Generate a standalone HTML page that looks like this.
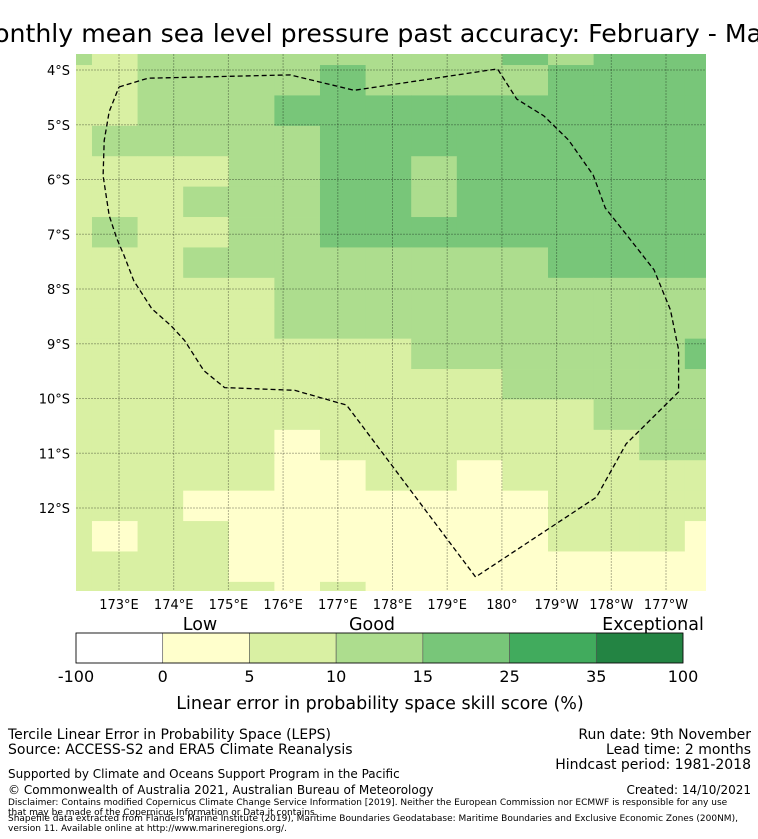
<!DOCTYPE html>
<html><head><meta charset="utf-8">
<style>
body{margin:0;background:#fff;font-family:"Liberation Sans","DejaVu Sans",sans-serif;}
#wrap{position:relative;width:758px;height:839px;overflow:hidden;}
svg text{font-family:"DejaVu Sans","Liberation Sans",sans-serif;}
</style></head>
<body>
<div id="wrap">
<svg id="svg" width="758" height="839"></svg>
</div>
<script>
// ---- data ----
const lonTicks=[173,174,175,176,177,178,179,180,181,182,183];
const lonLabels=["173°E","174°E","175°E","176°E","177°E","178°E","179°E","180°","179°W","178°W","177°W"];
const latTicks=[4,5,6,7,8,9,10,11,12];
const latLabels=["4°S","5°S","6°S","7°S","8°S","9°S","10°S","11°S","12°S"];
// skill category per grid cell (rows north->south, cols west->east); 1:0-5 2:5-10 3:10-15 4:15-25
const gridRow00=[3,2,3,3,3,3,3,3,3,3,4,3,4,4,4];
const gridRow01=[2,2,3,3,3,3,4,3,3,3,3,4,4,4,4];
const gridRow02=[2,2,3,3,3,4,4,4,4,4,4,4,4,4,4];
const gridRow03=[2,3,3,3,3,3,4,4,4,4,4,4,4,4,4];
const gridRow04=[2,2,2,2,3,3,4,4,3,4,4,4,4,4,4];
const gridRow05=[2,2,2,3,3,3,4,4,3,4,4,4,4,4,4];
const gridRow06=[2,3,2,2,3,3,4,4,4,4,4,4,4,4,4];
const gridRow07=[2,2,2,3,3,3,3,3,3,3,3,4,4,4,4];
const gridRow08=[2,2,2,2,2,3,3,3,3,3,3,3,3,3,3];
const gridRow09=[2,2,2,2,2,3,3,3,3,3,3,3,3,3,3];
const gridRow10=[2,2,2,2,2,2,2,2,3,3,3,3,3,3,4];
const gridRow11=[2,2,2,2,2,2,2,2,2,2,3,3,3,3,3];
const gridRow12=[2,2,2,2,2,2,2,2,2,2,2,2,3,3,3];
const gridRow13=[2,2,2,2,2,1,2,2,2,2,2,2,2,3,3];
const gridRow14=[2,2,2,2,2,1,1,2,2,1,2,2,2,2,2];
const gridRow15=[2,2,2,1,1,1,1,1,1,1,1,2,2,2,2];
const gridRow16=[2,1,2,2,1,1,1,1,1,1,1,2,2,2,1];
const gridRow17=[2,2,2,2,1,1,1,1,1,1,1,1,1,1,1];
const gridRow18=[2,2,2,2,2,1,2,1,1,1,1,1,1,1,1];
const grid=[gridRow00,gridRow01,gridRow02,gridRow03,gridRow04,gridRow05,gridRow06,gridRow07,gridRow08,gridRow09,gridRow10,gridRow11,gridRow12,gridRow13,gridRow14,gridRow15,gridRow16,gridRow17,gridRow18];
const cbTicks=["-100","0","5","10","15","25","35","100"];
const cbColors=["#ffffff","#ffffcc","#d9f0a3","#addd8e","#78c679","#41ab5d","#238443"];
const eezLon=[173.0,173.53,176.13,177.3,179.92,180.27,180.77,181.22,181.67,181.89,182.31,182.78,183.08,183.23,183.23,182.27,181.73,179.52,177.16,176.21,174.93,174.55,174.2,173.95,173.6,173.27,173.09,172.96,172.82,172.71,172.73,172.82,173.0];
const eezLat=[4.31,4.15,4.09,4.37,3.98,4.53,4.84,5.28,5.92,6.52,7.05,7.65,8.38,9.11,9.88,10.83,11.8,13.26,10.12,9.85,9.8,9.49,8.94,8.67,8.36,7.85,7.38,7.08,6.66,5.93,5.29,4.76,4.31];

// ---- axes ----
const X0=76,X1=706,Y0=54,Y1=591;
const xs=lon=>119+(lon-173)*54.7;
const ys=lat=>70+(lat-4)*54.75;
const cellW=0.8337, cellH=0.5553;
const lonStart=172.506-cellW, latStart=3.909-cellH;

const NS="http://www.w3.org/2000/svg";
const svg=document.getElementById('svg');
function mk(tag,attrs,parent){const e=document.createElementNS(NS,tag);for(const k in attrs)e.setAttribute(k,attrs[k]);(parent||svg).appendChild(e);return e;}

// title
let t=mk('text',{x:387,y:42,'text-anchor':'middle','font-size':25.2,fill:'#000'});
t.textContent="Monthly mean sea level pressure past accuracy: February - March";



const defs=mk('defs',{});
const cp=mk('clipPath',{id:'mapclip'},defs);
mk('rect',{x:X0,y:Y0,width:X1-X0,height:Y1-Y0},cp);
const map=mk('g',{'clip-path':'url(#mapclip)'});


grid.forEach((row,r)=>row.forEach((v,c)=>{
  const lo=lonStart+c*cellW, la=latStart+r*cellH;
  const x=xs(lo), y=ys(la), x2=xs(lo+cellW), y2=ys(la+cellH);
  const cell=mk('rect',{x:x,y:y,width:x2-x+0.4,height:y2-y+0.4,fill:cbColors[v]},map);
  
  
}));
// gridlines
lonTicks.forEach(l=>{const g=mk('line',{x1:xs(l),x2:xs(l),y1:Y0,y2:Y1,stroke:'#000','stroke-opacity':0.3,'stroke-width':1,'stroke-dasharray':'2,1'},map);
  });
latTicks.forEach(l=>{const g=mk('line',{x1:X0,x2:X1,y1:ys(l),y2:ys(l),stroke:'#000','stroke-opacity':0.3,'stroke-width':1,'stroke-dasharray':'2,1'},map);
  });
// EEZ
const pts=eezLon.map((l,i)=>xs(l).toFixed(1)+','+ys(eezLat[i]).toFixed(1)).join(' ');
const eez=mk('polyline',{points:pts,fill:'none',stroke:'#000','stroke-width':1.3,'stroke-dasharray':'5,3'},map);


// tick labels
lonTicks.forEach((l,i)=>{const e=mk('text',{x:xs(l),y:609,'text-anchor':'middle','font-size':13});e.textContent=lonLabels[i];
  });
latTicks.forEach((l,i)=>{const e=mk('text',{x:70,y:ys(l)+5,'text-anchor':'end','font-size':13});e.textContent=latLabels[i];
  });

// colorbar
const cbX0=76,cbX1=683,cbY=633,cbH=30,segW=(cbX1-cbX0)/cbColors.length;
const cb=mk('g',{});


cbColors.forEach((c,i)=>{const r=mk('rect',{x:cbX0+i*segW,y:cbY,width:segW,height:cbH,fill:c,stroke:'#555','stroke-width':0.6},cb);
  });
mk('rect',{x:cbX0,y:cbY,width:cbX1-cbX0,height:cbH,fill:'none',stroke:'#000','stroke-width':0.8},cb);
cbTicks.forEach((s,i)=>{const e=mk('text',{x:cbX0+i*segW,y:682,'text-anchor':'middle','font-size':16},cb);e.textContent=s;
  });
[["Low",200],["Good",372],["Exceptional",653]].forEach(([s,x])=>{const e=mk('text',{x:x,y:630,'text-anchor':'middle','font-size':17.5});e.textContent=s;
  });
let cl=mk('text',{x:380,y:709,'text-anchor':'middle','font-size':17.5});cl.textContent="Linear error in probability space skill score (%)";


// footer
function ft(s,x,y,size,anchor,name){const e=mk('text',{x:x,y:y,'font-size':size,'text-anchor':anchor||'start'});e.textContent=s;
  }
ft("Tercile Linear Error in Probability Space (LEPS)",8,739,14,'start','footer-method');
ft("Source: ACCESS-S2 and ERA5 Climate Reanalysis",8,754,14,'start','footer-source');
ft("Run date: 9th November",751,739,14,'end','footer-run-date');
ft("Lead time: 2 months",751,754,14,'end','footer-lead-time');
ft("Hindcast period: 1981-2018",751,769,14,'end','footer-hindcast');
ft("Supported by Climate and Oceans Support Program in the Pacific",8,778,12,'start','footer-support');
ft("© Commonwealth of Australia 2021, Australian Bureau of Meteorology",8,794,12,'start','footer-copyright');
ft("Created: 14/10/2021",751,794,12,'end','footer-created');
ft("Disclaimer: Contains modified Copernicus Climate Change Service Information [2019]. Neither the European Commission nor ECMWF is responsible for any use",8,805,9,'start','footer-disclaimer');
ft("that may be made of the Copernicus Information or Data it contains.",8,815,9,'start','footer-disclaimer-2');
ft("Shapefile data extracted from Flanders Marine Institute (2019), Maritime Boundaries Geodatabase: Maritime Boundaries and Exclusive Economic Zones (200NM),",8,821,9,'start','footer-shapefile');
ft("version 11. Available online at http://www.marineregions.org/.",8,831,9,'start','footer-shapefile-2');
</script>
</body></html>
